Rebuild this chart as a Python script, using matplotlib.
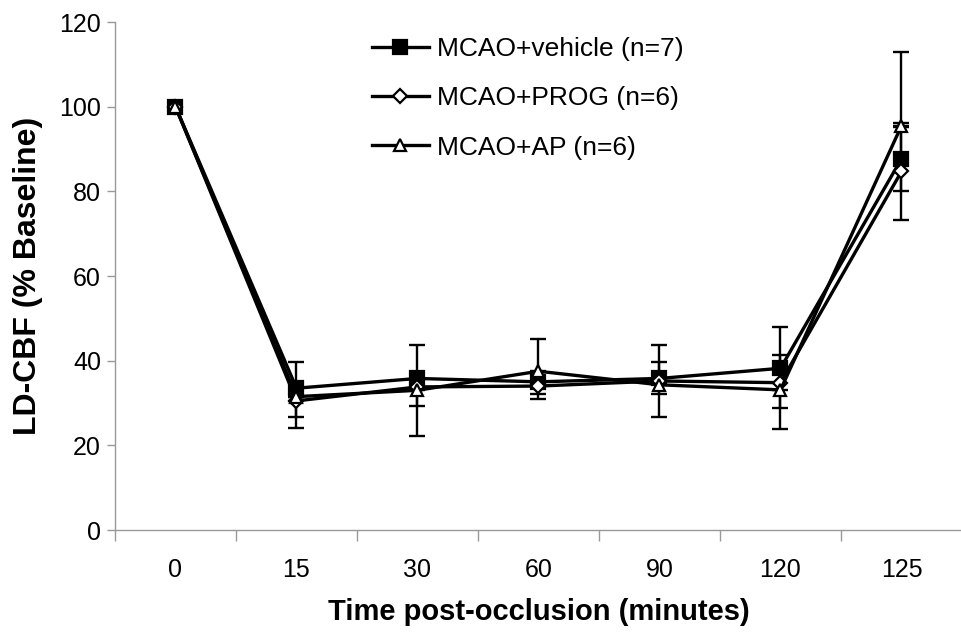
import matplotlib
matplotlib.use('Agg')
import matplotlib.pyplot as plt
import numpy as np

plt.rcParams['font.family'] = ['Liberation Sans', 'DejaVu Sans']

# 数据
time_labels = ['0', '15', '30', '60', '90', '120', '125']

vehicle = [100, 33.5, 35.8, 35.0, 35.8, 38.2, 87.7]
prog = [100, 30.5, 33.8, 34.0, 35.2, 34.8, 84.7]
ap = [100, 31.5, 33.0, 37.5, 34.3, 33.1, 95.5]

# 误差（下, 上）
vehicle_err_lo = [0, 6.9, 0, 2.8, 0, 0, 7.7]
vehicle_err_hi = [0, 6.1, 7.8, 0, 7.8, 9.7, 8.5]
prog_err_lo = [0, 6.5, 4.6, 3.0, 8.6, 6.0, 11.4]
prog_err_hi = [0, 0, 0, 0, 0, 6.6, 10.5]
ap_err_lo = [0, 0, 10.9, 0, 2.2, 9.3, 0]
ap_err_hi = [0, 0, 0, 7.7, 5.3, 0, 17.4]

labels = ['MCAO+vehicle (n=7)', 'MCAO+PROG (n=6)', 'MCAO+AP (n=6)']

fig = plt.figure(figsize=(9.62, 6.33), dpi=100)
ax = fig.add_axes([115 / 962, 1 - 530 / 633, 1 - 115 / 962, (530 - 22) / 633])

x = np.arange(len(time_labels))

series = [
    (vehicle, vehicle_err_lo, vehicle_err_hi, dict(marker='s', markersize=10, markerfacecolor='black')),
    (prog, prog_err_lo, prog_err_hi, dict(marker='D', markersize=7, markerfacecolor='white')),
    (ap, ap_err_lo, ap_err_hi, dict(marker='^', markersize=9, markerfacecolor='white')),
]

handles = []
for (vals, lo, hi, style), lab in zip(series, labels):
    ax.errorbar(x, vals, yerr=[lo, hi], fmt='none', ecolor='black',
                elinewidth=1.7, capsize=5.5, capthick=1.7, zorder=2)
    h, = ax.plot(x, vals, color='black', linewidth=2.4, markeredgecolor='black',
                 markeredgewidth=1.6, label=lab, zorder=3, **style)
    handles.append(h)

ax.set_xlim(-0.5, (962 - 115) / 122.5 - 0.5)
ax.set_ylim(0, 120)
ax.set_yticks(np.arange(0, 121, 20))

ax.set_xticks(x)
ax.set_xticklabels(time_labels, fontsize=18)
ax.set_xticks(np.arange(-0.5, 7, 1), minor=True)
ax.tick_params(axis='x', which='major', length=0, pad=20)
ax.tick_params(axis='x', which='minor', length=8, color='#999999', width=1)
ax.tick_params(axis='y', length=6, color='#999999', width=1, labelsize=18, pad=4)

for side in ['top', 'right']:
    ax.spines[side].set_visible(False)
for side in ['left', 'bottom']:
    ax.spines[side].set_color('#999999')
    ax.spines[side].set_linewidth(1)

ax.set_xlabel('Time post-occlusion (minutes)', fontsize=21, fontweight='bold', labelpad=12)
ax.set_ylabel('LD-CBF (% Baseline)', fontsize=23, fontweight='bold', labelpad=12)

fig.legend(handles=handles, loc='upper left', bbox_to_anchor=(372 / 962, 1 - 37 / 633),
           frameon=False, fontsize=19, handlelength=2.15, handletextpad=0.3,
           labelspacing=0.96, borderpad=0, borderaxespad=0)

plt.savefig('out.png', dpi=100)
